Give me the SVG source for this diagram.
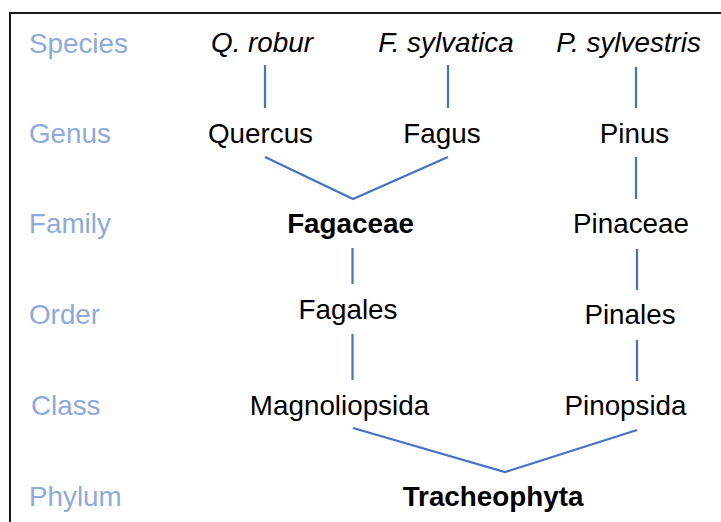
<svg xmlns="http://www.w3.org/2000/svg" width="721" height="522" viewBox="0 0 721 522">
<style>
text{font-family:"Liberation Sans",Arial,sans-serif;font-size:27.8px;fill:#000}
.rank{fill:#8eaadb}
.tax{text-anchor:middle}
.sp{font-style:italic}
.b{font-weight:bold}
.c{stroke:#4472c4;stroke-width:2.2;fill:none}
</style>
<rect width="721" height="522" fill="#fff"/>
<path d="M10,522 V13 H721" fill="none" stroke="#1a1a1a" stroke-width="2"/>
<g id="ranks">
<text class="rank" x="29" y="52.5">Species</text>
<text class="rank" x="29" y="142.5">Genus</text>
<text class="rank" x="29" y="233">Family</text>
<text class="rank" x="29" y="324">Order</text>
<text class="rank" x="31" y="415">Class</text>
<text class="rank" x="29" y="506">Phylum</text>
</g>
<g id="connectors">
<line class="c" x1="265" y1="65" x2="265" y2="108"/>
<line class="c" x1="448" y1="65" x2="448" y2="108"/>
<line class="c" x1="636" y1="67" x2="636" y2="108"/>
<polyline class="c" points="265,157 353,199 448,157"/>
<line class="c" x1="636" y1="157" x2="636" y2="199"/>
<line class="c" x1="352.5" y1="248" x2="352.5" y2="284"/>
<line class="c" x1="637" y1="249" x2="637" y2="290"/>
<line class="c" x1="352.5" y1="334" x2="352.5" y2="380"/>
<line class="c" x1="637" y1="340" x2="637" y2="381"/>
<polyline class="c" points="353,428 505,472 637,430"/>
</g>
<g id="q-robur"><text class="tax sp" x="262" y="52">Q. robur</text></g>
<g id="f-sylvatica"><text class="tax sp" x="446" y="52">F. sylvatica</text></g>
<g id="p-sylvestris"><text class="tax sp" x="628.5" y="52">P. sylvestris</text></g>
<g id="quercus"><text class="tax" x="260.5" y="142.5">Quercus</text></g>
<g id="fagus"><text class="tax" x="442" y="142.5">Fagus</text></g>
<g id="pinus"><text class="tax" x="634.5" y="142.5">Pinus</text></g>
<g id="fagaceae"><text class="tax b" x="350.5" y="233">Fagaceae</text></g>
<g id="pinaceae"><text class="tax" x="631" y="233">Pinaceae</text></g>
<g id="fagales"><text class="tax" x="348" y="319">Fagales</text></g>
<g id="pinales"><text class="tax" x="630" y="324">Pinales</text></g>
<g id="magnoliopsida"><text class="tax" x="339.5" y="415">Magnoliopsida</text></g>
<g id="pinopsida"><text class="tax" x="625.5" y="415">Pinopsida</text></g>
<g id="tracheophyta"><text class="tax b" x="493" y="506">Tracheophyta</text></g>
</svg>
